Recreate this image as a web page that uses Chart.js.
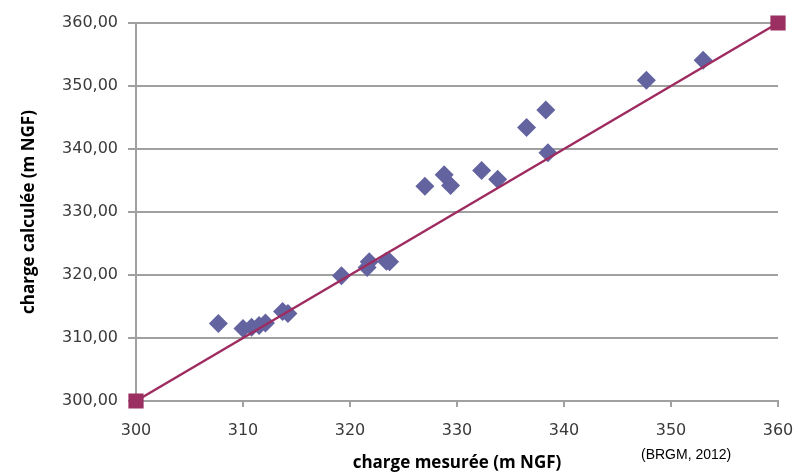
<!DOCTYPE html>
<html>
<head>
<meta charset="utf-8">
<script src="https://cdn.jsdelivr.net/npm/chart.js@4/dist/chart.umd.min.js"></script>
<style>
  html, body { margin: 0; padding: 0; background: #fff; }
  #wrap { position: relative; width: 803px; height: 475px; }
</style>
</head>
<body>
<div id="wrap"><canvas id="chart"></canvas></div>
<script>
// measured vs computed heads (m NGF)
const measured = [307.7, 310.0, 310.8, 311.5, 312.1, 313.7, 314.2, 319.2, 321.6, 321.8, 323.4, 323.7,
                  327.0, 328.8, 329.4, 332.3, 333.8, 336.5, 338.3, 338.5, 347.7, 353.0];
const computed = [312.3, 311.5, 311.7, 312.0, 312.4, 314.2, 313.9, 319.9, 321.2, 322.1, 322.2, 322.1,
                  334.1, 335.9, 334.2, 336.6, 335.2, 343.4, 346.2, 339.4, 350.9, 354.1];
const refLineX = [300, 360];
const refLineY = [300, 360];
const axisTicks = [300, 310, 320, 330, 340, 350, 360];
const sourceNote = "(BRGM, 2012)";

const tickFont = { family: "'DejaVu Sans', Verdana, sans-serif", size: 16 };
const titleFamily = "'Open Sans', sans-serif";

const notePlugin = {
  id: "sourceNote",
  afterDraw(chart) {
    const ctx = chart.ctx;
    ctx.save();
    ctx.fillStyle = "#000";
    ctx.font = "14px 'Liberation Sans', Arial, sans-serif";
    ctx.textBaseline = "middle";
    ctx.textAlign = "left";
    ctx.fillText(sourceNote, 641, 455);
    ctx.restore();
  }
};

new Chart(document.getElementById("chart"), {
  type: "scatter",
  data: {
    datasets: [
      {
        type: "line",
        label: "1:1",
        data: refLineX.map((x, i) => ({ x, y: refLineY[i] })),
        borderColor: "#9E2C60",
        borderWidth: 2.5,
        pointStyle: "rect",
        pointRadius: 9,
        pointBackgroundColor: "#9B2F62",
        pointBorderColor: "#9B2F62",
        clip: false
      },
      {
        label: "points",
        data: measured.map((x, i) => ({ x, y: computed[i] })),
        pointStyle: "rectRot",
        pointRadius: 9.5,
        backgroundColor: "#6363A0",
        borderColor: "#6363A0",
        borderWidth: 0
      }
    ]
  },
  options: {
    responsive: true,
    maintainAspectRatio: false,
    animation: false,
    layout: { padding: { top: 23, right: 25, bottom: 0, left: 0 } },
    plugins: {
      legend: { display: false },
      tooltip: { enabled: false }
    },
    scales: {
      x: {
        type: "linear",
        min: 300,
        max: 360,
        afterBuildTicks: s => { s.ticks = axisTicks.map(v => ({ value: v })); },
        afterFit: s => { s.height = 74; s.paddingLeft = 0; s.paddingRight = 0; },
        border: { color: "#A0A0A0", width: 2 },
        grid: { drawOnChartArea: false, drawTicks: true, tickLength: 6, color: "#A0A0A0", lineWidth: 2 },
        ticks: { font: tickFont, color: "#3A3A3A", padding: 14, maxRotation: 0 },
        title: {
          display: true,
          text: "charge mesurée (m NGF)",
          font: { family: titleFamily, size: 17, weight: "bold" },
          color: "#000",
          padding: { top: 0, bottom: 2 }
        }
      },
      y: {
        type: "linear",
        min: 300,
        max: 360,
        afterBuildTicks: s => { s.ticks = axisTicks.map(v => ({ value: v })); },
        afterFit: s => { s.width = 136; },
        border: { color: "#A0A0A0", width: 2 },
        grid: { color: "#A0A0A0", lineWidth: 2, tickLength: 8 },
        ticks: {
          font: tickFont,
          color: "#3A3A3A",
          padding: 10,
          callback: v => v.toFixed(2).replace(".", ",")
        },
        title: {
          display: true,
          text: "charge calculée (m NGF)",
          font: { family: titleFamily, size: 17, weight: "bold" },
          color: "#000",
          padding: { top: 19, bottom: 0 }
        }
      }
    }
  },
  plugins: [notePlugin]
});
</script>
</body>
</html>
